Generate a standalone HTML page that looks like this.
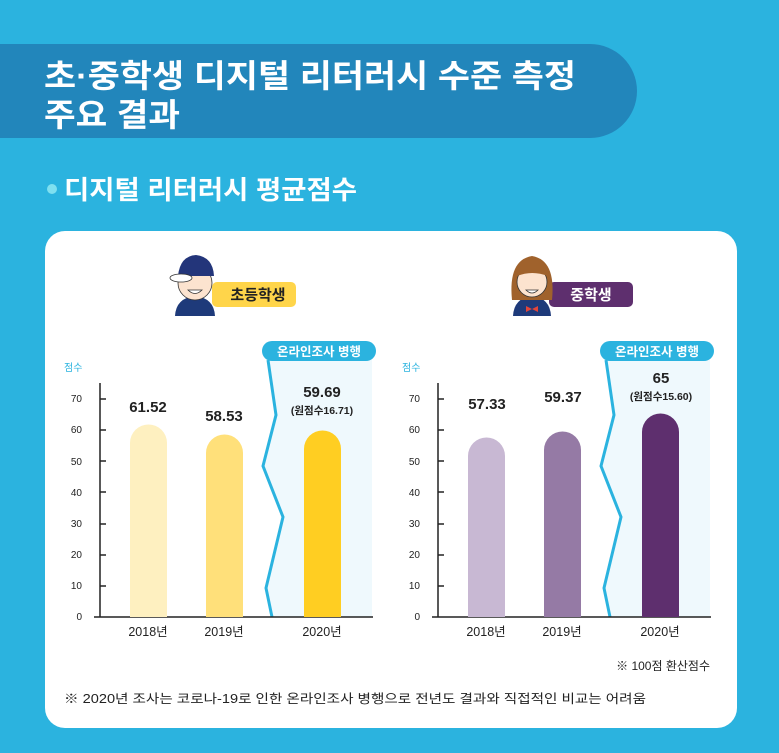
<!DOCTYPE html>
<html><head><meta charset="utf-8"><style>
body{margin:0;width:779px;height:748px;overflow:hidden;background:#2BB3DF;font-family:"Liberation Sans","Noto Sans CJK KR",sans-serif}
</style></head><body>
<svg width="779" height="748" xmlns="http://www.w3.org/2000/svg" font-family="'Liberation Sans','Noto Sans CJK KR',sans-serif">
<rect width="779" height="748" fill="#2BB3DF"/>
<path d="M0 44 H590 A47 47 0 0 1 590 138 H0 Z" fill="#2286BB"/>
<text x="44" y="87" font-size="32" font-weight="bold" fill="#fff" textLength="532" lengthAdjust="spacingAndGlyphs">초·중학생 디지털 리터러시 수준 측정</text>
<text x="44" y="126" font-size="32" font-weight="bold" fill="#fff" textLength="136" lengthAdjust="spacingAndGlyphs">주요 결과</text>
<circle cx="52" cy="189" r="5" fill="#7FE0F0"/>
<text x="64" y="199" font-size="26" font-weight="bold" fill="#fff" textLength="293" lengthAdjust="spacingAndGlyphs">디지털 리터러시 평균점수</text>
<rect x="45" y="231" width="692" height="497" rx="20" fill="#fff"/>

<g id="c1">
<path d="M268 360 L276 415 L263 466 L283 517 L266 588 L272 617 H372 V360 Z" fill="#EFF9FD"/>
<path d="M268 360 L276 415 L263 466 L283 517 L266 588 L272 617" fill="none" stroke="#2BB3DF" stroke-width="3"/>
<rect x="262" y="341" width="114" height="20" rx="10" fill="#2BB3DF"/>
<text x="319" y="356" font-size="12.5" font-weight="bold" fill="#fff" text-anchor="middle">온라인조사 병행</text>
<text x="64" y="371" font-size="10" fill="#2BB3DF">점수</text>
<g font-size="10" fill="#222" text-anchor="end">
<text x="82" y="402">70</text><text x="82" y="433">60</text><text x="82" y="465">50</text><text x="82" y="496">40</text><text x="82" y="527">30</text><text x="82" y="558">20</text><text x="82" y="589">10</text><text x="82" y="620">0</text>
</g>
<g stroke="#222" stroke-width="1.5">
<line x1="100" y1="383" x2="100" y2="617"/>
<line x1="100" y1="399" x2="106" y2="399"/><line x1="100" y1="430" x2="106" y2="430"/><line x1="100" y1="461" x2="106" y2="461"/><line x1="100" y1="492" x2="106" y2="492"/><line x1="100" y1="524" x2="106" y2="524"/><line x1="100" y1="555" x2="106" y2="555"/><line x1="100" y1="586" x2="106" y2="586"/>
<line x1="94" y1="617" x2="373" y2="617"/>
</g>
</g>
<use href="#c1" x="338"/>

<path d="M130 617 V443 A18.5 18.5 0 0 1 167 443 V617 Z" fill="#FEF0C0"/>
<path d="M206 617 V453 A18.5 18.5 0 0 1 243 453 V617 Z" fill="#FFE07A"/>
<path d="M304 617 V449 A18.5 18.5 0 0 1 341 449 V617 Z" fill="#FFCE22"/>
<path d="M468 617 V456 A18.5 18.5 0 0 1 505 456 V617 Z" fill="#C8B8D3"/>
<path d="M544 617 V450 A18.5 18.5 0 0 1 581 450 V617 Z" fill="#957AA5"/>
<path d="M642 617 V432 A18.5 18.5 0 0 1 679 432 V617 Z" fill="#5E2F6E"/>

<g font-size="15" font-weight="bold" fill="#222" text-anchor="middle">
<text x="148" y="412">61.52</text><text x="224" y="421">58.53</text><text x="322" y="397">59.69</text>
<text x="487" y="409">57.33</text><text x="563" y="402">59.37</text><text x="661" y="383">65</text>
</g>
<g font-size="10.5" font-weight="bold" fill="#222" text-anchor="middle">
<text x="322" y="414">(원점수16.71)</text><text x="661" y="400">(원점수15.60)</text>
</g>
<g font-size="12.5" fill="#222" text-anchor="middle">
<text x="148" y="636">2018년</text><text x="224" y="636">2019년</text><text x="322" y="636">2020년</text>
<text x="486" y="636">2018년</text><text x="562" y="636">2019년</text><text x="660" y="636">2020년</text>
</g>
<text x="710" y="670" font-size="12" fill="#222" text-anchor="end">※ 100점 환산점수</text>
<text x="64" y="703" font-size="12.5" fill="#222" textLength="582" lengthAdjust="spacingAndGlyphs">※ 2020년 조사는 코로나-19로 인한 온라인조사 병행으로 전년도 결과와 직접적인 비교는 어려움</text>

<rect x="212" y="282" width="84" height="25" rx="5" fill="#FFD54A"/>
<text x="258" y="300" font-size="15" font-weight="bold" fill="#222" text-anchor="middle">초등학생</text>
<path d="M175 316 Q176 298 195 296 Q214 298 215 316 Z" fill="#1E3A7A"/>
<circle cx="195" cy="283" r="17" fill="#FCE3CF" stroke="#333" stroke-width="0.8"/>
<path d="M178 276 Q180 256 196 255 Q213 257 214 276 Z" fill="#23357A"/>
<ellipse cx="181" cy="278" rx="11" ry="4" fill="#fff" stroke="#333" stroke-width="0.8"/>
<path d="M188 290 Q195 297 202 290 Z" fill="#fff" stroke="#333" stroke-width="0.8"/>
<rect x="549" y="282" width="84" height="25" rx="5" fill="#5E2F6E"/>
<text x="591" y="300" font-size="15" font-weight="bold" fill="#fff" text-anchor="middle">중학생</text>
<path d="M513 316 Q514 298 532 296 Q550 298 551 316 Z" fill="#1E3A7A"/>
<path d="M512 300 Q508 260 532 256 Q556 260 552 300 Z" fill="#A0622C"/>
<circle cx="532" cy="282" r="15" fill="#FCE3CF" stroke="#333" stroke-width="0.8"/>
<path d="M517 276 Q520 262 532 262 Q546 262 548 276 Q532 270 517 276 Z" fill="#A0622C"/>
<path d="M526 290 Q532 296 538 290 Z" fill="#fff" stroke="#333" stroke-width="0.8"/>
<path d="M526 306 L532 309 L526 312 Z M538 306 L532 309 L538 312 Z" fill="#E2453A"/>
</svg>
</body></html>
